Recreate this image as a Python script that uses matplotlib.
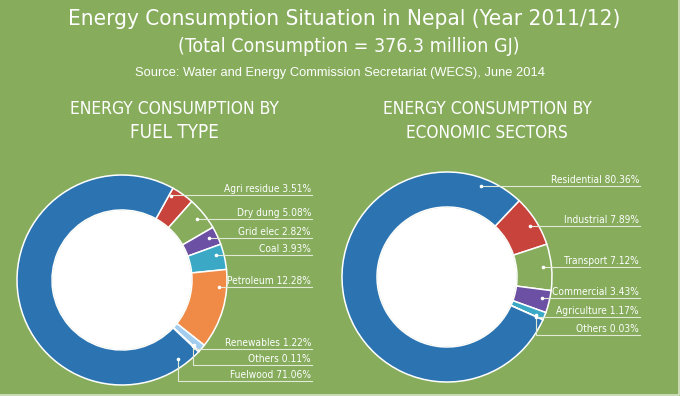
import numpy as np
import matplotlib
matplotlib.use("Agg")
import matplotlib.pyplot as plt
from matplotlib import font_manager
from matplotlib.patches import Circle

# ---- data -------------------------------------------------------------
fuel_labels = ["Agri residue", "Dry dung", "Grid elec", "Coal", "Petroleum",
               "Renewables", "Others", "Fuelwood"]
fuel_values = [3.51, 5.08, 2.82, 3.93, 12.28, 1.22, 0.11, 71.06]

sector_labels = ["Industrial", "Transport", "Commercial", "Agriculture",
                 "Others", "Residential"]
sector_values = [7.89, 7.12, 3.43, 1.17, 0.03, 80.36]

title = "Energy Consumption Situation in Nepal (Year 2011/12)"
subtitle = "(Total Consumption = 376.3 million GJ)"
source = "Source: Water and Energy Commission Secretariat (WECS), June 2014"
left_title = "ENERGY CONSUMPTION BY\nFUEL TYPE"
right_title = "ENERGY CONSUMPTION BY\nECONOMIC SECTORS"

# ---- style / layout ---------------------------------------------------
W, H = 680, 396
BG = "#86ac5c"
LINE = "#e2ead6"
BLUE, RED, PURPLE, TEAL = "#2b74b1", "#c9433d", "#6b50a3", "#3ba9c6"
ORANGE, LIGHTBLUE, PALE = "#ef8b47", "#a3cdee", "#e6eef6"

fuel_colors = [RED, BG, PURPLE, TEAL, ORANGE, LIGHTBLUE, PALE, BLUE]
sector_colors = [RED, BG, PURPLE, TEAL, PALE, BLUE]

# label line heights, pixels from top
fuel_label_y = [195, 219, 238, 255, 287, 349, 365, 381]
sector_label_y = [226, 267, 298, 317, 335, 186]

COND = font_manager.FontProperties(family="DejaVu Sans", stretch="condensed")


def py(y):
    return H - y


def donut(ax, values, colors, labels, label_y, cx, cy, startangle, xend,
          override=None):
    R, r_in = 105, 70
    r_a = 97
    cyd = py(cy)
    ax.pie(values, colors=colors, startangle=startangle, counterclock=False,
           radius=R, center=(cx, cyd),
           wedgeprops=dict(width=R - r_in, edgecolor="white", linewidth=1.1))
    ax.add_patch(Circle((cx, cyd), r_in - 0.5, fc="white", ec="none", zorder=3))
    edges = startangle - np.cumsum([0] + list(values)) * 3.6
    for i, (lab, v) in enumerate(zip(labels, values)):
        a1, a2 = edges[i], edges[i + 1]
        ly = py(label_y[i])
        dy = ly - cyd
        if override and lab in override:
            th = override[lab]
        else:
            if abs(dy) < r_a:
                th = np.degrees(np.arctan2(dy, np.sqrt(r_a ** 2 - dy ** 2)))
            else:
                th = 90 * np.sign(dy)
            if not (a2 <= th <= a1) and (a2 <= th - 360 <= a1):
                th -= 360
            m = min(1.0, (a1 - a2) / 2)
            th = min(max(th, a2 + m), a1 - m)
        axx = cx + r_a * np.cos(np.radians(th))
        ayy = cyd + r_a * np.sin(np.radians(th))
        ax.plot([axx, axx, xend], [ayy, ly, ly], color=LINE, lw=0.8,
                solid_joinstyle="miter", zorder=4)
        ax.plot([axx], [ayy], "o", color="white", ms=1.6, zorder=5)
        ax.text(xend - 1, ly + 1.2, f"{lab} {v:.2f}%", ha="right", va="bottom",
                color="white", fontproperties=COND, fontsize=7.3, zorder=5)


fig = plt.figure(figsize=(W / 100, H / 100), dpi=100)
fig.patch.set_facecolor(BG)
ax = fig.add_axes([0, 0, 1, 1])
ax.set_facecolor(BG)

donut(ax, fuel_values, fuel_colors, fuel_labels, fuel_label_y,
      122, 280, 61, 312, override={"Fuelwood": -55})
donut(ax, sector_values, sector_colors, sector_labels, sector_label_y,
      447, 277, 46.6, 640)

ax.set_xlim(0, W)
ax.set_ylim(0, H)
ax.set_aspect("equal")
ax.axis("off")


def fit_text(x, y, s, width, size, **kw):
    t = ax.text(x, y, s, ha="center", va="center", color="white",
                fontproperties=COND, fontsize=size, **kw)
    fig.canvas.draw()
    w = t.get_window_extent(fig.canvas.get_renderer()).width
    if w > width:
        t.set_fontsize(size * width / w)
    return t


fit_text(344, py(19), title, 550, 19)
fit_text(349, py(46), subtitle, 342, 16)
ax.text(340, py(73), source, ha="center", va="center", color="white",
        family="Liberation Sans", fontsize=9.3)
fit_text(174, py(109), left_title.split("\n")[0], 211, 13.5)
fit_text(174, py(133), left_title.split("\n")[1], 95, 13.5)
fit_text(487, py(109), right_title.split("\n")[0], 211, 13.5)
fit_text(487, py(133), right_title.split("\n")[1], 163, 13.5)

# light frame on the bottom and right edges
ax.plot([0, W - 1.5, W - 1.5], [1.5, 1.5, H], color="#d6e3c6", lw=1.2)

fig.savefig("out.png", dpi=100, facecolor=BG)
